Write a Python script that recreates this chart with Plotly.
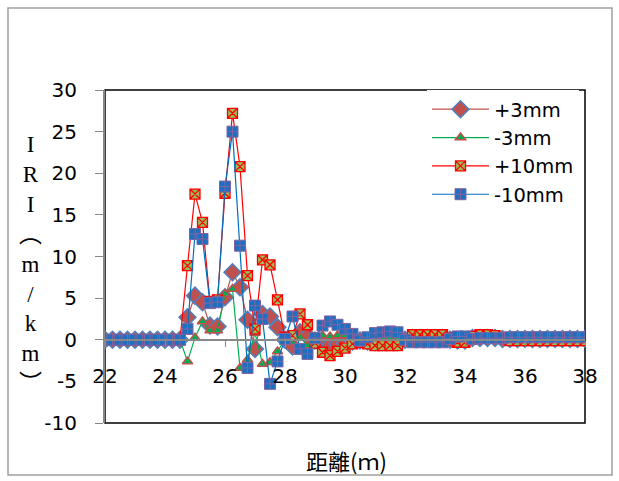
import plotly.graph_objects as go

# sampling positions along the profile (m)
distance = [
    22.0, 22.25, 22.5, 22.75, 23.0, 23.25, 23.5, 23.75, 24.0, 24.25, 24.5,
    24.75, 25.0, 25.25, 25.5, 25.75, 26.0, 26.25, 26.5, 26.75, 27.0,
    27.25, 27.5, 27.75, 28.0, 28.25, 28.5, 28.75, 29.0, 29.25, 29.5,
    29.75, 30.0, 30.25, 30.5, 30.75, 31.0, 31.25, 31.5, 31.75, 32.0,
    32.25, 32.5, 32.75, 33.0, 33.25, 33.5, 33.75, 34.0, 34.25, 34.5,
    34.75, 35.0, 35.25, 35.5, 35.75, 36.0, 36.25, 36.5, 36.75, 37.0,
    37.25, 37.5, 37.75, 38.0,
]

lead_zero = [0.0] * 11

iri_p3 = lead_zero + [
    2.7, 5.3, 4.5, 1.7, 1.6, 5.1, 8.1, 6.3, 2.4, -1.1,
    3.1, 2.8, 1.5, 0.0, -0.8, 0.9, 0.5, -0.1, -0.7, -0.6,
    -0.5, -0.4, -0.2, -0.1, -0.2, -0.3, -0.3, -0.3, -0.3, 0.0,
    0.2, 0.2, 0.2, 0.2, 0.2, 0.0, -0.1, -0.1, 0.2, 0.2,
    0.2, 0.2, 0.1, 0.1, 0.1, 0.1, 0.1, 0.1, 0.1, 0.1,
    0.1, 0.1, 0.1, 0.1,
]

iri_m3 = lead_zero + [
    -2.6, 0.25, 2.2, 1.1, 1.1, 5.5, 6.1, -3.4, -2.4, 0.8,
    -2.9, -2.7, -1.4, 0.0, -0.3, 0.3, -0.7, 0.0, 0.5, 0.4,
    0.5, 0.5, 0.3, 0.1, 0.1, 0.2, 0.2, 0.2, 0.2, 0.0,
    -0.1, -0.1, -0.1, -0.1, -0.1, 0.0, 0.1, 0.1, -0.1, -0.1,
    -0.1, -0.1, 0.0, 0.0, 0.0, 0.0, 0.0, 0.0, 0.0, 0.0,
    0.0, 0.0, 0.0, 0.0,
]

iri_p10 = lead_zero + [
    8.9, 17.5, 14.1, 4.6, 4.8, 17.6, 27.2, 20.8, 7.7, 1.3,
    9.6, 9.0, 4.8, 0.3, 0.5, 3.1, 1.8, -0.4, -1.5, -1.9,
    -1.4, -1.0, -0.5, -0.3, -0.5, -0.7, -0.7, -0.7, -0.7, -0.1,
    0.6, 0.6, 0.6, 0.6, 0.6, 0.2, -0.3, -0.3, 0.4, 0.6,
    0.6, 0.5, 0.2, -0.1, -0.1, -0.1, -0.1, -0.1, -0.1, -0.1,
    -0.1, -0.1, -0.1, -0.1,
]

iri_m10 = lead_zero + [
    1.3, 12.7, 12.1, 4.4, 4.5, 18.4, 25.0, 11.3, -3.4, 4.1,
    2.5, -5.3, -2.6, 0.1, 2.8, -1.1, -1.7, 0.2, 1.7, 2.2,
    1.8, 1.3, 0.7, -0.1, 0.3, 0.8, 0.9, 1.0, 0.9, 0.0,
    -0.3, -0.3, -0.3, -0.3, -0.3, 0.1, 0.4, 0.4, 0.1, 0.2,
    0.2, 0.2, 0.2, 0.3, 0.3, 0.3, 0.3, 0.3, 0.3, 0.3,
    0.3, 0.3, 0.3, 0.3,
]

x_ticks = [22, 24, 26, 28, 30, 32, 34, 36, 38]
y_ticks = [-10, -5, 0, 5, 10, 15, 20, 25, 30]
y_tick_text = ["-10", "-5", "0", "5", "10", "15", "20", "25", "30"]

series = [
    ("+3mm", iri_p3, dict(line=dict(color="#C0504D", width=1.2),
                          marker=dict(symbol="diamond", size=13, color="#C0504D",
                                      line=dict(color="#4F81BD", width=1.5)))),
    ("-3mm", iri_m3, dict(line=dict(color="#00B050", width=1.2),
                          marker=dict(symbol="triangle-up", size=9, color="#00B050",
                                      line=dict(color="#C0504D", width=1.5)))),
    ("+10mm", iri_p10, dict(line=dict(color="#FF0000", width=1.2),
                            marker=dict(symbol="square-x", size=10, color="#9BBB59",
                                        line=dict(color="#FF0000", width=1.3)))),
    ("-10mm", iri_m10, dict(line=dict(color="#0070C0", width=1.2),
                            marker=dict(symbol="square-cross", size=11, color="#1F6FC0",
                                        line=dict(color="#8064A2", width=1)))),
]

fig = go.Figure()
for name, vals, style in series:
    fig.add_trace(go.Scatter(x=distance, y=vals, name=name, mode="lines+markers", **style))

W, H = 619, 481
L, R, T, B = 105, 585, 90, 423
pw, ph = R - L, B - T
tick_font = dict(family="DejaVu Sans, sans-serif", size=20, color="#000000")

fig.update_layout(
    width=W, height=H,
    margin=dict(l=L, r=W - R, t=T, b=H - B),
    paper_bgcolor="white", plot_bgcolor="white",
    showlegend=True,
    legend=dict(x=1 - 6 / pw, y=1, xanchor="right", yanchor="top",
                bgcolor="white", borderwidth=0,
                font=dict(family="DejaVu Sans, sans-serif", size=19.5, color="#000000"),
                itemwidth=57, tracegroupgap=0),
    xaxis=dict(range=[22, 38], tickvals=x_ticks,
               showgrid=False, zeroline=False,
               anchor="free", position=0.25,
               showline=True, linecolor="#888888", linewidth=2,
               ticks="outside", ticklen=6, tickcolor="#888888", tickwidth=1,
               ticklabelstandoff=12, tickfont=tick_font),
    yaxis=dict(range=[-10, 30], tickvals=y_ticks, ticktext=y_tick_text,
               showgrid=False, zeroline=False,
               showline=True, linecolor="#888888", linewidth=2,
               ticks="outside", ticklen=8, tickcolor="#888888", tickwidth=1,
               ticklabelstandoff=14, tickfont=tick_font),
)

# plot-area frame (top, right, bottom)
fig.add_shape(type="rect", xref="paper", yref="paper", x0=0, y0=0, x1=1, y1=1,
              line=dict(color="#000000", width=1.5), layer="below")

# outer chart frame
fig.add_shape(type="rect", xref="paper", yref="paper",
              x0=(8 - L) / pw, x1=(612 - L) / pw,
              y0=(B - 475) / ph, y1=(B - 8) / ph,
              line=dict(color="#A0A0A0", width=1.5), layer="below")

# vertical y-axis title
fig.add_annotation(xref="paper", yref="paper", x=(30 - L) / pw, y=(B - 264) / ph,
                   text="I<br>R<br>I<br>︵<br>m<br>/<br>k<br>m<br>︶",
                   showarrow=False, xanchor="center", yanchor="middle",
                   font=dict(family="Liberation Serif, Noto Sans CJK TC, serif", size=23, color="#000000"))

# x-axis title
fig.add_annotation(xref="paper", yref="paper", x=(346 - L) / pw, y=(B - 460) / ph,
                   text="距離(ｍ)", showarrow=False, xanchor="center", yanchor="middle",
                   font=dict(family="Noto Sans CJK TC, serif", size=22, color="#000000"))

fig.write_html("out.html")
